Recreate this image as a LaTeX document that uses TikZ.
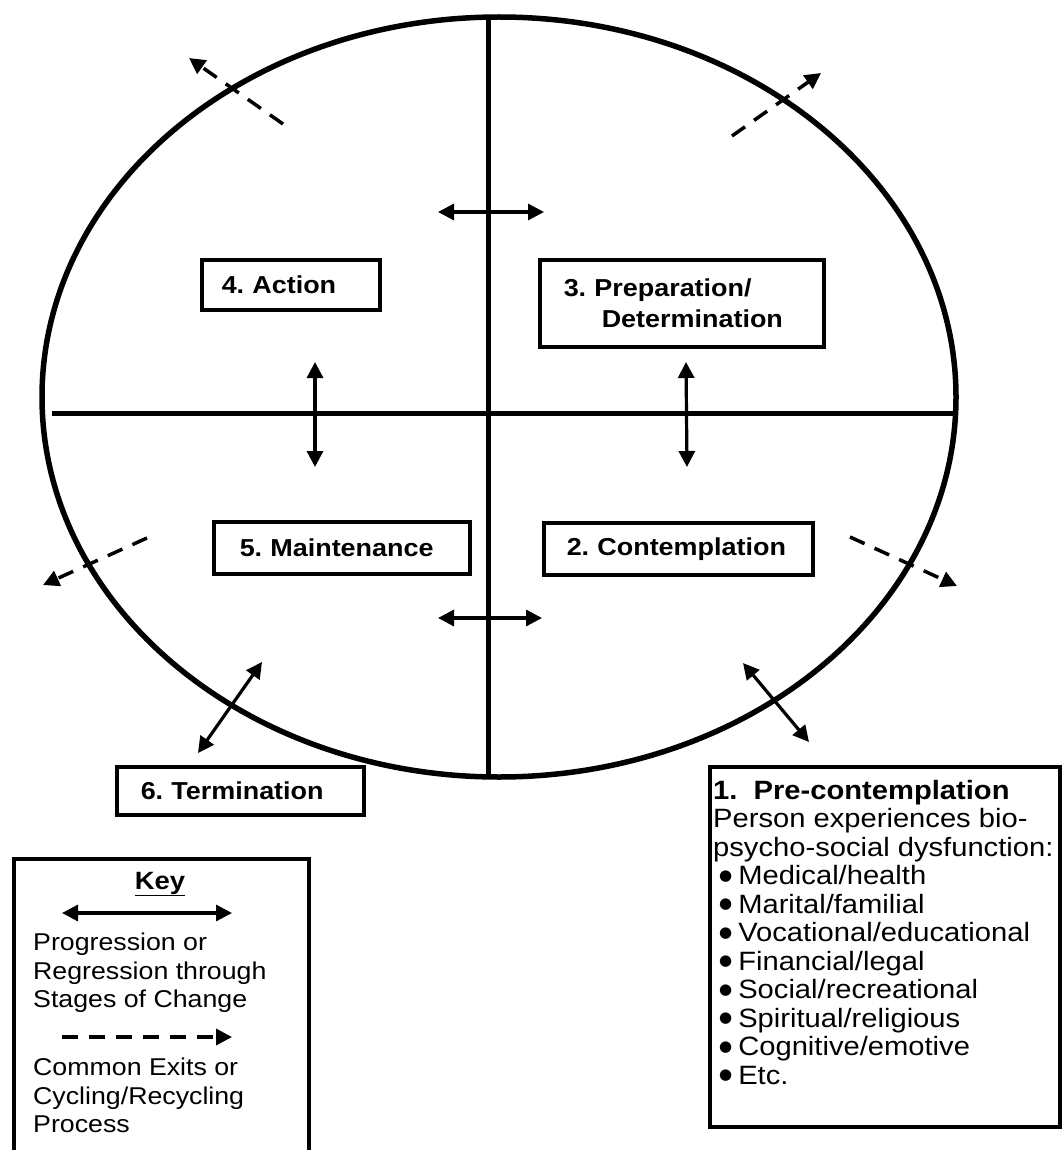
\documentclass[tikz,border=0pt]{standalone}
\usepackage{fontspec}
\setmainfont{Liberation Sans}[FakeStretch=1.1]
\newfontfamily\dotfont{DejaVu Sans}
\usetikzlibrary{arrows.meta,shapes.geometric}
\newcommand{\bul}{\hspace*{6pt}\raisebox{4.5pt}{\dotfont\fontsize{15}{15}\selectfont ●}\hspace{6pt}}
\frenchspacing
\begin{document}
\begin{tikzpicture}[x=1pt,y=-1pt,
  heavy/.style={line width=5pt},
  boxline/.style={draw, line width=3.5pt, fill=white},
  stagebox/.style={boxline, anchor=north west, inner ysep=0pt, align=left,
    font=\bfseries\fontsize{24.5}{31}\selectfont},
  plaintext/.style={anchor=north west, inner sep=0pt, align=left},
  twoway/.style={line width=3.2pt, {Triangle[length=16pt,width=16pt]}-{Triangle[length=16pt,width=16pt]}},
  exitarrow/.style={line width=3.5pt, dash pattern=on 16pt off 11pt, -{Triangle[length=16pt,width=16pt]}},
]
\useasboundingbox[fill=white] (0,0) rectangle (1063,1150);

% main ellipse and axes
\node[draw, line width=5.5pt, ellipse, minimum width=914pt, minimum height=760pt, inner sep=0pt] (circle) at (499,397) {};
\coordinate (vtop) at (488,17);
\coordinate (vbot) at (488,777);
\coordinate (hleft) at (52,413);
\coordinate (hright) at (958,413);
\draw[heavy] (vtop) -- (vbot);
\draw[heavy] (hleft) -- (hright);

% stage boxes
\node[stagebox, minimum height=50pt, text width=138pt, inner xsep=20pt] (action) at (200,258) {\mbox{4. Action}};
\node[stagebox, minimum height=87pt, text width=236pt, inner xsep=24pt] (prep) at (538,258) {\mbox{3. Preparation/}\\\mbox{\hspace*{38pt}Determination}};
\node[stagebox, minimum height=52pt, text width=204pt, inner xsep=26pt] (maint) at (212,520) {\mbox{5. Maintenance}};
\node[stagebox, minimum height=52pt, text width=223pt, inner xsep=23pt] (contem) at (542,521) {\mbox{2. Contemplation}};
\node[stagebox, minimum height=48pt, text width=199pt, inner xsep=24pt] (term) at (115,765) {\mbox{6. Termination}};

% pre-contemplation box
\node[boxline, anchor=north west, minimum width=350pt, minimum height=360pt, inner sep=0pt] (pre) at (708,765) {};
\node[plaintext, font=\fontsize{26.5}{28.5}\selectfont] (pretext) at (713,780) {%
  \textbf{1.\ \ Pre-contemplation}\\
  Person experiences bio-\\
  psycho-social dysfunction:\\
  \bul Medical/health\\
  \bul Marital/familial\\
  \bul Vocational/educational\\
  \bul Financial/legal\\
  \bul Social/recreational\\
  \bul Spiritual/religious\\
  \bul Cognitive/emotive\\
  \bul Etc.};

% key box
\node[boxline, anchor=north west, minimum width=295pt, minimum height=320pt, inner sep=0pt] (key) at (12,857) {};
\node[inner sep=0pt, font=\bfseries\fontsize{25}{28.5}\selectfont] (keytitle) at (160,884) {\underline{Key}};
\coordinate (ka1) at (62,913);
\coordinate (ka2) at (232,913);
\draw[twoway] (ka1) -- (ka2);
\node[plaintext, font=\fontsize{24.3}{28.5}\selectfont] (keyprog) at (33,933) {Progression or\\Regression through\\Stages of Change};
\coordinate (kd1) at (62,1037);
\coordinate (kd2) at (232,1037);
\draw[exitarrow] (kd1) -- (kd2);
\node[plaintext, font=\fontsize{24.3}{28.5}\selectfont] (keyexit) at (33,1058) {Common Exits or\\Cycling/Recycling\\Process};

% two-way arrows
\coordinate (t1) at (438,212); \coordinate (t2) at (544,212);
\coordinate (b1) at (438,618); \coordinate (b2) at (542,618);
\coordinate (l1) at (315,362); \coordinate (l2) at (315,467);
\coordinate (r1) at (686,362); \coordinate (r2) at (687,467);
\coordinate (m1) at (262,662); \coordinate (m2) at (198,753);
\coordinate (p1) at (743,663); \coordinate (p2) at (809,742);
\draw[twoway] (t1) -- (t2);
\draw[twoway] (b1) -- (b2);
\draw[twoway] (l1) -- (l2);
\draw[twoway] (r1) -- (r2);
\draw[twoway] (m1) -- (m2);
\draw[twoway] (p1) -- (p2);

% exit arrows
\coordinate (e1a) at (283,124); \coordinate (e1b) at (189,58);
\coordinate (e2a) at (732,136); \coordinate (e2b) at (821,73);
\coordinate (e3a) at (147,538); \coordinate (e3b) at (43,585);
\coordinate (e4a) at (850,537); \coordinate (e4b) at (957,586);
\draw[exitarrow] (e1a) -- (e1b);
\draw[exitarrow] (e2a) -- (e2b);
\draw[exitarrow] (e3a) -- (e3b);
\draw[exitarrow] (e4a) -- (e4b);
\end{tikzpicture}
\end{document}
